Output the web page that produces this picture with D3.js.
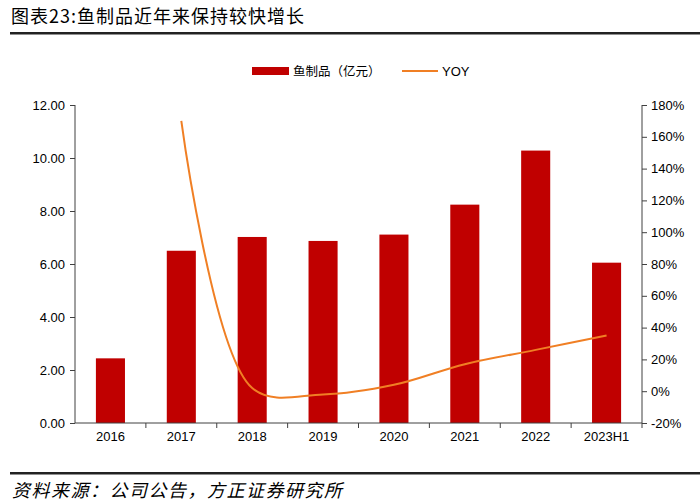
<!DOCTYPE html>
<html lang="zh">
<head>
<meta charset="UTF-8">
<script src="https://d3js.org/d3.v7.min.js"></script>
<style>
  body { margin: 0; background: #fff; }
  svg text { font-family: "Liberation Sans", Arial, sans-serif; fill: #000; }
  .cjk { font-family: "Noto Sans CJK SC", sans-serif; }
</style>
</head>
<body>
<svg id="chart" width="700" height="504"></svg>
<script>
  const categories = ['2016', '2017', '2018', '2019', '2020', '2021', '2022', '2023H1'];
  const fishValues = [2.44, 6.50, 7.02, 6.87, 7.11, 8.24, 10.28, 6.05];
  const yoyValues = [null, 1.70, 0.02, -0.02, 0.04, 0.17, 0.26, 0.35];
  const leftTicks = [0, 2, 4, 6, 8, 10, 12];
  const rightTicks = [-0.2, 0, 0.2, 0.4, 0.6, 0.8, 1.0, 1.2, 1.4, 1.6, 1.8];

  const svg = d3.select('#chart');
  const plotL = 75, plotR = 642, plotT = 105, plotB = 423;

  // 标题与分隔线
  svg.append('text').attr('class', 'cjk').attr('x', 11).attr('y', 23)
    .style('font-size', '18px').style('letter-spacing', '1px').text('图表23:鱼制品近年来保持较快增长');
  svg.append('rect').attr('x', 10).attr('y', 32).attr('width', 690).attr('height', 2.5).attr('fill', '#222');
  svg.append('rect').attr('x', 10).attr('y', 472).attr('width', 690).attr('height', 2.5).attr('fill', '#222');
  svg.append('text').attr('class', 'cjk').attr('x', 12).attr('y', 497)
    .style('font-size', '18px').style('font-style', 'italic').style('letter-spacing', '1.5px')
    .text('资料来源：公司公告，方正证券研究所');

  const x = d3.scaleBand().domain(categories).range([plotL, plotR]).paddingInner(0.59).paddingOuter(0.295);
  const xb = d3.scaleBand().domain(categories).range([plotL, plotR]);
  const yL = d3.scaleLinear().domain([0, 12]).range([plotB, plotT]);
  const yR = d3.scaleLinear().domain([-0.2, 1.8]).range([plotB, plotT]);

  // 柱子
  svg.append('g').selectAll('rect').data(fishValues).enter().append('rect')
    .attr('x', (d, i) => x(categories[i]))
    .attr('y', d => yL(d))
    .attr('width', x.bandwidth())
    .attr('height', d => plotB - yL(d))
    .attr('fill', '#C00000');

  // YOY 折线
  const pts = yoyValues.map((v, i) => [xb(categories[i]) + xb.bandwidth() / 2, v]).filter(p => p[1] !== null);
  svg.append('path').datum(pts)
    .attr('fill', 'none').attr('stroke', '#F07F24').attr('stroke-width', 2)
    .attr('d', d3.line().x(p => p[0]).y(p => yR(p[1])).curve(d3.curveCatmullRom.alpha(0.5)));

  // 坐标轴
  const axisColor = '#404040';
  const gL = svg.append('g').attr('transform', `translate(${plotL},0)`)
    .call(d3.axisLeft(yL).tickValues(leftTicks).tickSize(5).tickPadding(5).tickFormat(d3.format('.2f')));
  const gR = svg.append('g').attr('transform', `translate(${plotR},0)`)
    .call(d3.axisRight(yR).tickValues(rightTicks).tickSize(5).tickPadding(4).tickFormat(d => Math.round(d * 100) + '%'));
  const gX = svg.append('g').attr('transform', `translate(0,${plotB})`)
    .call(d3.axisBottom(xb).tickSize(0).tickPadding(9));
  gX.selectAll('.tick').append('line')
    .attr('x1', xb.bandwidth() / 2).attr('x2', xb.bandwidth() / 2).attr('y1', 0).attr('y2', 5);
  [gL, gR, gX].forEach(g => {
    g.select('.domain').attr('stroke', axisColor);
    g.selectAll('.tick line').attr('stroke', axisColor);
    g.selectAll('.tick text').style('font-size', '13px').style('font-family', '"Liberation Sans", Arial, sans-serif').attr('fill', '#000');
  });
  gL.select('.domain').attr('d', `M0,${plotT}V${plotB}`);
  gR.select('.domain').attr('d', `M0,${plotT}V${plotB}`);
  gX.select('.domain').attr('d', `M${plotL},0H${plotR}`);

  // 图例
  const lg = svg.append('g');
  lg.append('rect').attr('x', 252).attr('y', 67).attr('width', 37).attr('height', 8).attr('fill', '#C00000');
  lg.append('text').attr('class', 'cjk').attr('x', 293).attr('y', 76).style('font-size', '12.5px').text('鱼制品（亿元）');
  lg.append('line').attr('x1', 402).attr('x2', 438).attr('y1', 71).attr('y2', 71)
    .attr('stroke', '#F07F24').attr('stroke-width', 2);
  lg.append('text').attr('x', 442).attr('y', 76).style('font-size', '13px').text('YOY');
</script>
</body>
</html>
